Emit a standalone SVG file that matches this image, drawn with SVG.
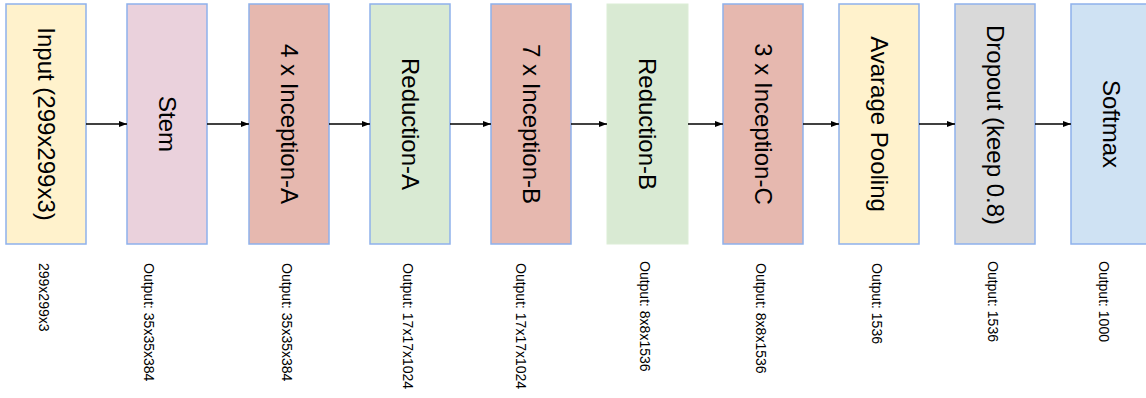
<svg xmlns="http://www.w3.org/2000/svg" width="1146" height="398" viewBox="0 0 1146 398">
<defs>
<marker id="ah" markerWidth="8" markerHeight="6" refX="8" refY="3" orient="auto" markerUnits="userSpaceOnUse">
<path d="M0,0 L8,3 L0,6 Z" fill="#000"/>
</marker>
</defs>
<style>
.box{stroke:#8EB1EC;stroke-width:1.5}
.yel{fill:#FFF2CC}.pink{fill:#EAD1DC}.red{fill:#E6B8AF}.grn{fill:#D9EAD3}.gry{fill:#D9D9D9}.blu{fill:#CFE2F3}
.nb{stroke:#DCEDD6}
.big{font-family:"Liberation Sans",Arial,sans-serif;font-size:24px;fill:#000;text-anchor:middle}
.small{font-family:"Liberation Sans",Arial,sans-serif;font-size:14px;fill:#000}
.conn{stroke:#000;stroke-width:1.3;fill:none}
</style>
<rect width="1146" height="398" fill="#fff"/>
<g id="input">
<rect class="box yel" x="6" y="4" width="80" height="240"/>
<text class="big" transform="translate(46,124) rotate(90)" dy="0.35em">Input (299x299x3)</text>
<text class="small" transform="translate(38.5,263) rotate(90)">299x299x3</text>
</g>
<g id="stem">
<rect class="box pink" x="127" y="4" width="80" height="240"/>
<text class="big" transform="translate(167,124) rotate(90)" dy="0.35em">Stem</text>
<text class="small" transform="translate(143.5,263) rotate(90)">Output: 35x35x384</text>
</g>
<g id="inceptionA">
<rect class="box red" x="249" y="4" width="80" height="240"/>
<text class="big" transform="translate(289,124) rotate(90)" dy="0.35em">4 x Inception-A</text>
<text class="small" transform="translate(281.5,263) rotate(90)">Output: 35x35x384</text>
</g>
<g id="reductionA">
<rect class="box grn" x="370" y="4" width="80" height="240"/>
<text class="big" transform="translate(410,124) rotate(90)" dy="0.35em">Reduction-A</text>
<text class="small" transform="translate(402.5,263) rotate(90)">Output: 17x17x1024</text>
</g>
<g id="inceptionB">
<rect class="box red" x="491" y="4" width="80" height="240"/>
<text class="big" transform="translate(531,124) rotate(90)" dy="0.35em">7 x Inception-B</text>
<text class="small" transform="translate(516,263) rotate(90)">Output: 17x17x1024</text>
</g>
<g id="reductionB">
<rect class="grn nb" x="607" y="4" width="81" height="240" stroke-width="1"/>
<text class="big" transform="translate(647.5,124) rotate(90)" dy="0.35em">Reduction-B</text>
<text class="small" transform="translate(640,261) rotate(90)">Output: 8x8x1536</text>
</g>
<g id="inceptionC">
<rect class="box red" x="723" y="4" width="80" height="240"/>
<text class="big" transform="translate(763,124) rotate(90)" dy="0.35em">3 x Inception-C</text>
<text class="small" transform="translate(756,263) rotate(90)">Output: 8x8x1536</text>
</g>
<g id="avgpool">
<rect class="box yel" x="839" y="4" width="80" height="240"/>
<text class="big" transform="translate(879,124) rotate(90)" dy="0.35em">Avarage Pooling</text>
<text class="small" transform="translate(871.5,263) rotate(90)">Output: 1536</text>
</g>
<g id="dropout">
<rect class="box gry" x="955" y="4" width="80" height="240"/>
<text class="big" transform="translate(995,125) rotate(90)" dy="0.35em">Dropout (keep 0.8)</text>
<text class="small" transform="translate(987.5,261) rotate(90)">Output: 1536</text>
</g>
<g id="softmax">
<rect class="box blu" x="1071" y="4" width="90" height="240"/>
<text class="big" transform="translate(1111,124) rotate(90)" dy="0.35em">Softmax</text>
<text class="small" transform="translate(1099,261) rotate(90)">Output: 1000</text>
</g>
<g id="connectors">
<line class="conn" x1="86" y1="124" x2="127" y2="124" marker-end="url(#ah)"/>
<line class="conn" x1="207" y1="124" x2="249" y2="124" marker-end="url(#ah)"/>
<line class="conn" x1="329" y1="124" x2="370" y2="124" marker-end="url(#ah)"/>
<line class="conn" x1="450" y1="124" x2="491" y2="124" marker-end="url(#ah)"/>
<line class="conn" x1="571" y1="124" x2="607" y2="124" marker-end="url(#ah)"/>
<line class="conn" x1="688" y1="124" x2="723" y2="124" marker-end="url(#ah)"/>
<line class="conn" x1="803" y1="124" x2="839" y2="124" marker-end="url(#ah)"/>
<line class="conn" x1="919" y1="124" x2="955" y2="124" marker-end="url(#ah)"/>
<line class="conn" x1="1035" y1="124" x2="1071" y2="124" marker-end="url(#ah)"/>
</g>
</svg>
